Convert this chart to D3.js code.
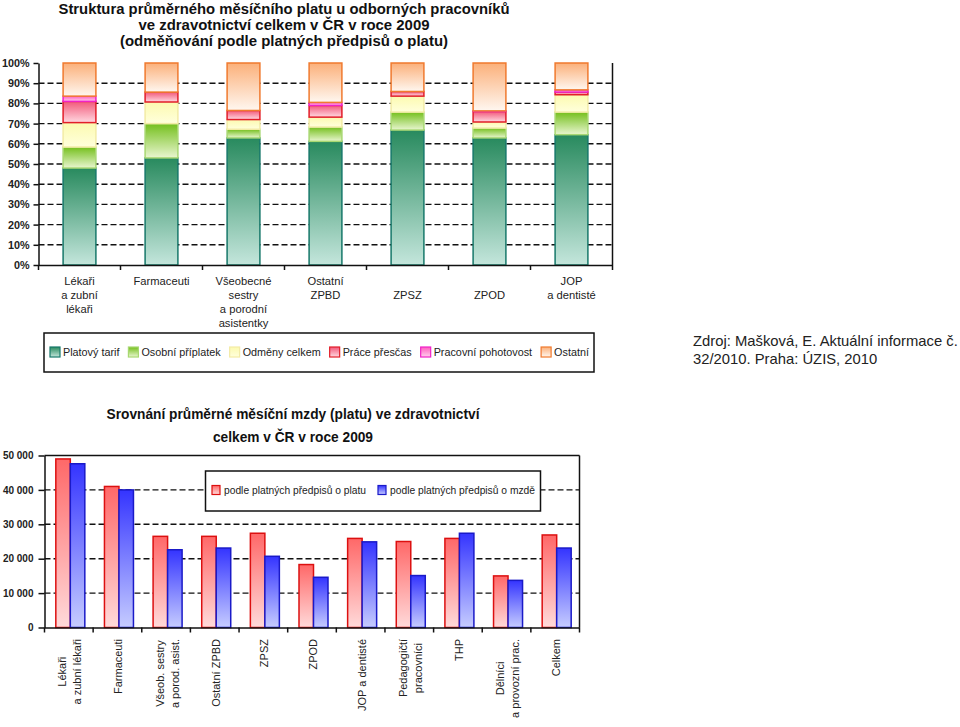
<!DOCTYPE html>
<html><head><meta charset="utf-8">
<script src="https://cdn.jsdelivr.net/npm/d3@7"></script>
<style>
body{margin:0;background:#fff;}
svg{display:block;font-family:"Liberation Sans",Arial,Helvetica,sans-serif;}
</style></head><body>
<svg id="c" width="960" height="727"></svg>
<script>
// ---------- Chart 1 data ----------
const title1 = ["Struktura průměrného měsíčního platu u odborných pracovníků",
                "ve zdravotnictví celkem v ČR v roce 2009",
                "(odměňování podle platných předpisů o platu)"];
const categories1 = [["Lékaři","a zubní","lékaři"],["Farmaceuti"],["Všeobecné","sestry","a porodní","asistentky"],["Ostatní","ZPBD"],["","ZPSZ"],["","ZPOD"],["JOP","a dentisté"]];
const seriesNames1 = ["Platový tarif","Osobní příplatek","Odměny celkem","Práce přesčas","Pracovní pohotovost","Ostatní"];
const platovyTarif       = [48.0, 53.0, 62.9, 61.2, 66.8, 62.9, 64.5];
const osobniPriplatek    = [10.4, 17.0,  4.3,  7.1,  8.9,  4.9, 11.2];
const odmenyCelkem       = [12.1, 10.7,  4.8,  4.9,  7.9,  3.0,  8.6];
const pracePrescas       = [10.5,  4.9,  4.5,  5.8,  2.3,  5.2,  1.3];
const pracovniPohotovost = [ 2.6,  0.0,  0.0,  1.5,  0.0,  0.3,  1.1];
const ostatni            = [16.4, 14.4, 23.5, 19.5, 14.1, 23.7, 13.3];
const yTicks1 = [0,10,20,30,40,50,60,70,80,90,100];

// ---------- Chart 2 data ----------
const title2 = ["Srovnání průměrné měsíční mzdy (platu) ve zdravotnictví","celkem v ČR v roce 2009"];
const categories2 = [["Lékaři","a zubní lékaři"],["Farmaceuti"],["Všeob. sestry","a porod. asist."],["Ostatní ZPBD"],["ZPSZ"],["ZPOD"],["JOP a dentisté"],["Pedagogičtí","pracovníci"],["THP"],["Dělníci","a provozní prac."],["Celkem"]];
const seriesNames2 = ["podle platných předpisů o platu","podle platných předpisů o mzdě"];
const podlePlatu = [49000, 41000, 26500, 26500, 27400, 18300, 25900, 25000, 25900, 15000, 26900];
const podleMzde  = [47600, 40000, 22600, 23100, 20700, 14600, 24900, 15100, 27400, 13700, 23100];
const yTicks2 = [0,10000,20000,30000,40000,50000];

const sourceLines = ["Zdroj: Mašková, E. Aktuální informace č.","32/2010. Praha: ÚZIS, 2010"];

// ---------- styles ----------
const styles1 = [
  {top:"#288a5e", bot:"#c4e6dc", stroke:"#17786a"},
  {top:"#74bf1c", bot:"#e9f6d0", stroke:"#a8d872"},
  {top:"#fcfab0", bot:"#ffffdc", stroke:"#f3eba6"},
  {top:"#f2587a", bot:"#ffd8e0", stroke:"#e21e2a"},
  {top:"#ff5cc0", bot:"#ffd0ec", stroke:"#f022c8"},
  {top:"#fbb07a", bot:"#fff7f0", stroke:"#f07a2e"}
];
const styles2 = [
  {top:"#ff6868", bot:"#ffdada", stroke:"#dc1010"},
  {top:"#3434ff", bot:"#c6ccff", stroke:"#1a1ac8"}
];

const svg = d3.select("#c");
const defs = svg.append("defs");
function grad(id, top, bot){
  const g = defs.append("linearGradient").attr("id",id).attr("x1",0).attr("y1",0).attr("x2",0).attr("y2",1);
  g.append("stop").attr("offset","0%").attr("stop-color",top);
  g.append("stop").attr("offset","100%").attr("stop-color",bot);
}
styles1.forEach((s,i)=>grad("g1_"+i,s.top,s.bot));
styles2.forEach((s,i)=>grad("g2_"+i,s.top,s.bot));

// =============== CHART 1 ===============
const c1 = {left:38.5, right:612.5, top:63, bottom:265};
const x1 = d3.scaleBand().domain(d3.range(categories1.length)).range([c1.left,c1.right]).padding(0);
const y1 = d3.scaleLinear().domain([0,100]).range([c1.bottom,c1.top]);
const bw1 = x1.step()*0.4;

// title
const t1 = svg.append("g").attr("font-weight","bold").attr("font-size",14.6).attr("fill","#111").attr("text-anchor","middle");
const tl1 = [451, 291, 328];
title1.forEach((t,i)=>t1.append("text").attr("x",284).attr("y",14+i*16)
  .attr("textLength",tl1[i]).attr("lengthAdjust","spacingAndGlyphs").text(t));

// grid
svg.append("g").selectAll("line").data(yTicks1.filter(d=>d>0&&d<100)).join("line")
  .attr("x1",c1.left).attr("x2",c1.right).attr("y1",d=>y1(d)).attr("y2",d=>y1(d))
  .attr("stroke","#111").attr("stroke-width",1.4).attr("stroke-dasharray","6,3");

// stacked bars
const keys1 = ["tarif","osobni","odmeny","prescas","pohotovost","ostatni"];
const rows1 = categories1.map((c,i)=>({i, tarif:platovyTarif[i], osobni:osobniPriplatek[i], odmeny:odmenyCelkem[i], prescas:pracePrescas[i], pohotovost:pracovniPohotovost[i], ostatni:ostatni[i]}));
const stacked1 = d3.stack().keys(keys1)(rows1);
stacked1.forEach((layer,k)=>{
  svg.append("g").selectAll("rect").data(layer.filter(d=>d[1]-d[0]>0)).join("rect")
    .attr("x",d=>x1(d.data.i)+(x1.step()-bw1)/2)
    .attr("width",bw1)
    .attr("y",d=>y1(d[1]))
    .attr("height",d=>y1(d[0])-y1(d[1]))
    .attr("fill","url(#g1_"+k+")")
    .attr("stroke",styles1[k].stroke).attr("stroke-width",1.5);
});

// axes
const ya1 = d3.axisLeft(y1).tickValues(yTicks1).tickFormat(d=>d+"%").tickSize(5).tickSizeOuter(0);
const gy1 = svg.append("g").attr("transform",`translate(${c1.left},0)`).call(ya1);
gy1.select(".domain").attr("stroke","#111").attr("stroke-width",1.5);
gy1.selectAll(".tick line").attr("stroke","#111").attr("stroke-width",1.5);
gy1.selectAll(".tick text").attr("font-size",10.8).attr("font-weight","bold").attr("fill","#222").attr("font-family","Liberation Sans, Arial, sans-serif").attr("x",-9);

const xa1 = d3.axisBottom(x1).tickSize(0).tickFormat("").tickSizeOuter(0);
const gx1 = svg.append("g").attr("transform",`translate(0,${c1.bottom})`).call(xa1);
gx1.select(".domain").attr("stroke","#111").attr("stroke-width",1.5);
const bounds1 = x1.domain().map(d=>x1(d)).concat([c1.right]);
svg.append("g").selectAll("line").data(bounds1).join("line")
  .attr("x1",d=>d).attr("x2",d=>d).attr("y1",c1.bottom).attr("y2",c1.bottom+5)
  .attr("stroke","#111").attr("stroke-width",1.5);
svg.append("line").attr("x1",c1.right).attr("x2",c1.right).attr("y1",c1.top).attr("y2",c1.bottom).attr("stroke","#111").attr("stroke-width",1.5);

// category labels
const cl1 = svg.append("g").attr("font-size",11.2).attr("fill","#222").attr("text-anchor","middle");
categories1.forEach((lines,i)=>{
  lines.forEach((ln,j)=>{
    cl1.append("text").attr("x",x1(i)+x1.step()/2).attr("y",285+j*14).text(ln);
  });
});

// legend 1
svg.append("rect").attr("x",44).attr("y",333).attr("width",550).attr("height",39).attr("fill","#fff").attr("stroke","#111").attr("stroke-width",1.5);
const lg1 = svg.append("g").attr("font-size",10.8).attr("fill","#222");
let lx = 50;
seriesNames1.forEach((n,k)=>{
  lg1.append("rect").attr("x",lx).attr("y",347).attr("width",10).attr("height",10)
    .attr("fill","url(#g1_"+k+")").attr("stroke",styles1[k].stroke).attr("stroke-width",1.2);
  const t = lg1.append("text").attr("x",lx+13).attr("y",356).text(n);
  lx += 13 + t.node().getComputedTextLength() + 9;
});

// source text
const src = svg.append("g").attr("font-size",14.8).attr("fill","#222");
sourceLines.forEach((s,i)=>src.append("text").attr("x",693).attr("y",346+i*18).text(s));

// =============== CHART 2 ===============
const c2 = {left:44.5, right:579.5, top:455.5, bottom:627.5};
const x2 = d3.scaleBand().domain(d3.range(categories2.length)).range([c2.left,c2.right]).padding(0);
const y2 = d3.scaleLinear().domain([0,50000]).range([c2.bottom,c2.top]);
const bw2 = 14.5;

const t2 = svg.append("g").attr("font-weight","bold").attr("font-size",15).attr("fill","#111").attr("text-anchor","middle");
t2.append("text").attr("x",293).attr("y",419).attr("textLength",373).attr("lengthAdjust","spacingAndGlyphs").text(title2[0]);
t2.append("text").attr("x",293).attr("y",442).attr("textLength",160).attr("lengthAdjust","spacingAndGlyphs").text(title2[1]);

// grid
svg.append("g").selectAll("line").data(yTicks2.filter(d=>d>0&&d<50000)).join("line")
  .attr("x1",c2.left).attr("x2",c2.right).attr("y1",d=>y2(d)).attr("y2",d=>y2(d))
  .attr("stroke","#111").attr("stroke-width",1.4).attr("stroke-dasharray","6,3");

// legend 2 (box covers grid)
svg.append("rect").attr("x",205.5).attr("y",471).attr("width",335).attr("height",40).attr("fill","#fff").attr("stroke","#111").attr("stroke-width",1.5);
const lg2 = svg.append("g").attr("font-size",11).attr("fill","#222");
const lgx2 = [212, 378];
seriesNames2.forEach((n,k)=>{
  lg2.append("rect").attr("x",lgx2[k]).attr("y",485.5).attr("width",8).attr("height",9)
    .attr("fill","url(#g2_"+k+")").attr("stroke",styles2[k].stroke).attr("stroke-width",1.2);
  lg2.append("text").attr("x",lgx2[k]+12).attr("y",494).attr("textLength",k===0?142:145).attr("lengthAdjust","spacingAndGlyphs").text(n);
});

// bars
const vals2 = [podlePlatu, podleMzde];
vals2.forEach((arr,k)=>{
  svg.append("g").selectAll("rect").data(arr.map((v,i)=>({i,v}))).join("rect")
    .attr("x",d=>x2(d.i)+x2.step()/2 - bw2 + 1.5 + k*bw2)
    .attr("width",bw2)
    .attr("y",d=>y2(d.v))
    .attr("height",d=>y2(0)-y2(d.v))
    .attr("fill","url(#g2_"+k+")")
    .attr("stroke",styles2[k].stroke).attr("stroke-width",1.5);
});

const loc = d3.formatLocale({decimal:",",thousands:" ",grouping:[3],currency:["",""]});
const ya2 = d3.axisLeft(y2).tickValues(yTicks2).tickFormat(loc.format(",")).tickSize(6).tickSizeOuter(0);
const gy2 = svg.append("g").attr("transform",`translate(${c2.left},0)`).call(ya2);
gy2.select(".domain").attr("stroke","#111").attr("stroke-width",1.5);
gy2.selectAll(".tick line").attr("stroke","#111").attr("stroke-width",1.5);
gy2.selectAll(".tick text").attr("font-size",10).attr("font-weight","bold").attr("fill","#222").attr("font-family","Liberation Sans, Arial, sans-serif").attr("x",-11);

const xa2 = d3.axisBottom(x2).tickSize(0).tickFormat("").tickSizeOuter(0);
const gx2 = svg.append("g").attr("transform",`translate(0,${c2.bottom})`).call(xa2);
gx2.select(".domain").attr("stroke","#111").attr("stroke-width",1.5);
const bounds2 = x2.domain().map(d=>x2(d)).concat([c2.right]);
svg.append("g").selectAll("line").data(bounds2).join("line")
  .attr("x1",d=>d).attr("x2",d=>d).attr("y1",c2.bottom).attr("y2",c2.bottom+5)
  .attr("stroke","#111").attr("stroke-width",1.5);
svg.append("line").attr("x1",c2.left).attr("x2",c2.right).attr("y1",c2.top).attr("y2",c2.top).attr("stroke","#111").attr("stroke-width",1.5);
svg.append("line").attr("x1",c2.right).attr("x2",c2.right).attr("y1",c2.top).attr("y2",c2.bottom).attr("stroke","#111").attr("stroke-width",1.5);

// rotated category labels
const cl2 = svg.append("g").attr("font-size",11).attr("fill","#222");
categories2.forEach((lines,i)=>{
  const g = cl2.append("g").attr("transform",`translate(${x2(i)+x2.step()/2+1},639) rotate(-90)`);
  const ts = lines.map((ln,j)=>g.append("text").attr("text-anchor","middle").attr("dominant-baseline","central")
      .attr("y",(j-(lines.length-1)/2)*15).text(ln));
  const maxW = d3.max(ts, t=>t.node().getComputedTextLength());
  ts.forEach(t=>t.attr("x",-maxW/2));
});
</script>
</body></html>
